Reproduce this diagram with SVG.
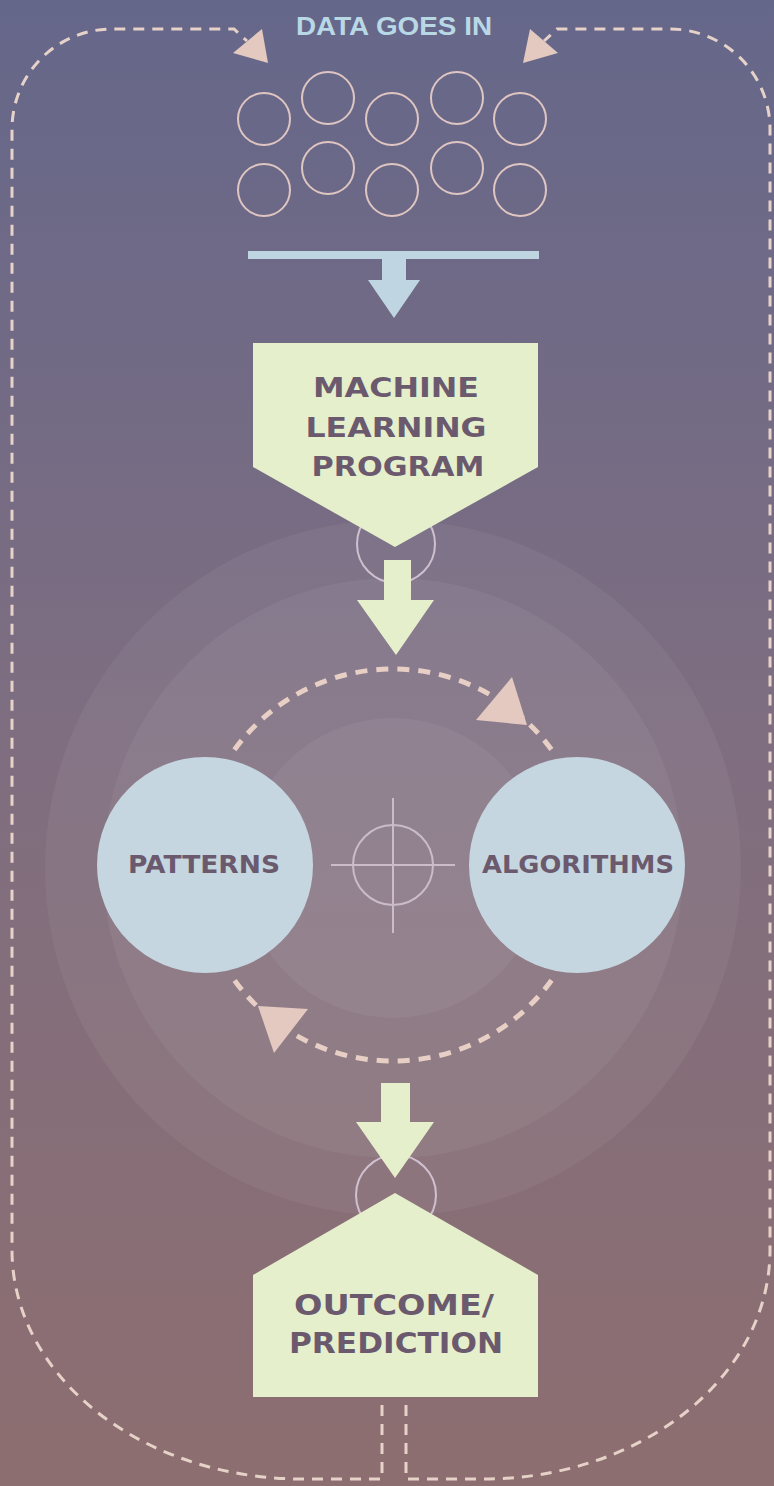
<svg xmlns="http://www.w3.org/2000/svg" width="774" height="1486" viewBox="0 0 774 1486">
<defs>
<linearGradient id="bg" x1="0" y1="0" x2="0" y2="1">
<stop offset="0" stop-color="#65678a"/>
<stop offset="0.5" stop-color="#7f6e80"/>
<stop offset="1" stop-color="#8d6e70"/>
</linearGradient>
<style>
.loop{fill:none;stroke:#e6d2c8;stroke-width:3;stroke-dasharray:11 8}
.cyc{fill:none;stroke:#e8cfc5;stroke-width:5;stroke-dasharray:12 9}
.head{fill:#e4c9c0}
.dot{fill:none;stroke:#e0c6c2;stroke-width:2}
.ring{fill:none;stroke:#d0c0d0;stroke-width:2}
.green{fill:#e6efcc}
.blue{fill:#bfd6e2}
.halo{fill:#ffffff;fill-opacity:0.05}
.lbl{font-family:"DejaVu Sans",sans-serif;font-weight:bold;fill:#6b5a6e;text-anchor:middle}
.cross{fill:none;stroke:#cbbccb;stroke-width:2}
</style>
</defs>
<rect x="0" y="0" width="774" height="1486" fill="url(#bg)"/>
<g id="halo">
<circle class="halo" cx="393" cy="868" r="348"/>
<circle class="halo" cx="393" cy="868" r="290"/>
<circle class="halo" cx="393" cy="868" r="150"/>
</g>
<g id="data-in">
<text x="394" y="35" font-family="'Liberation Sans',Arial,sans-serif" font-weight="bold" font-size="26.5" fill="#b9d8e6" text-anchor="middle" textLength="196" lengthAdjust="spacingAndGlyphs">DATA GOES IN</text>
<circle class="dot" cx="264" cy="119" r="26"/>
<circle class="dot" cx="328" cy="98" r="26"/>
<circle class="dot" cx="392" cy="119" r="26"/>
<circle class="dot" cx="457" cy="98" r="26"/>
<circle class="dot" cx="520" cy="119" r="26"/>
<circle class="dot" cx="264" cy="190" r="26"/>
<circle class="dot" cx="328" cy="168" r="26"/>
<circle class="dot" cx="392" cy="190" r="26"/>
<circle class="dot" cx="457" cy="168" r="26"/>
<circle class="dot" cx="520" cy="190" r="26"/>
</g>
<g id="funnel">
<rect class="blue" x="248" y="251" width="291" height="8"/>
<rect class="blue" x="382" y="258" width="24" height="23"/>
<polygon class="blue" points="368,280 420,280 394,318"/>
</g>
<g id="ml-program">
<circle class="ring" cx="396" cy="544" r="39"/>
<polygon class="green" points="253,343 538,343 538,467 395,547 253,467"/>
<text class="lbl" x="396" y="397" font-size="26" textLength="166" lengthAdjust="spacingAndGlyphs">MACHINE</text>
<text class="lbl" x="396" y="437" font-size="26" textLength="181" lengthAdjust="spacingAndGlyphs">LEARNING</text>
<text class="lbl" x="398" y="476" font-size="26" textLength="173" lengthAdjust="spacingAndGlyphs">PROGRAM</text>
</g>
<g id="crosshair">
<circle class="cross" cx="393" cy="865" r="40"/>
<line class="cross" x1="331" y1="865" x2="455" y2="865"/>
<line class="cross" x1="393" y1="798" x2="393" y2="933"/>
</g>
<g id="patterns">
<circle cx="205" cy="865" r="108" fill="#c5d6e0"/>
<text class="lbl" x="204" y="873" font-size="25" textLength="152" lengthAdjust="spacingAndGlyphs">PATTERNS</text>
</g>
<g id="algorithms">
<circle cx="577" cy="865" r="108" fill="#c5d6e0"/>
<text class="lbl" x="578" y="873" font-size="25" textLength="192" lengthAdjust="spacingAndGlyphs">ALGORITHMS</text>
</g>
<g id="outcome">
<circle class="ring" cx="396" cy="1195" r="40"/>
<polygon class="green" points="395,1193 538,1275 538,1397 253,1397 253,1275"/>
<text class="lbl" x="394" y="1315" font-size="28" textLength="200" lengthAdjust="spacingAndGlyphs">OUTCOME/</text>
<text class="lbl" x="396" y="1353" font-size="28" textLength="214" lengthAdjust="spacingAndGlyphs">PREDICTION</text>
</g>
<g id="connectors">
<path class="loop" d="M 382 1405 L 382 1479 L 302 1479 A 290 229 0 0 1 12 1250 L 12 129 A 100 100 0 0 1 112 29 L 234 29 L 247 41"/>
<path class="loop" d="M 406 1405 L 406 1479 L 484 1479 A 286 229 0 0 0 770 1250 L 770 129 A 100 100 0 0 0 670 29 L 557 29 L 544 41"/>
<polygon class="head" points="233,53 262,29 268,63"/>
<polygon class="head" points="530,29 558,53 523,63"/>
<path class="cyc" d="M 234.4 749.8 A 196 196 0 0 1 551.6 749.8"/>
<path class="cyc" d="M 551.6 980.2 A 196 196 0 0 1 234.4 980.2"/>
<polygon class="head" points="512,677 476,720 527,725"/>
<polygon class="head" points="274,1053 308,1009 258,1006"/>
<g id="arrow-ml-down">
<rect class="green" x="384" y="560" width="27" height="41"/>
<polygon class="green" points="357,600 434,600 396,655"/>
</g>
<g id="arrow-outcome-down">
<rect class="green" x="381" y="1083" width="29" height="40"/>
<polygon class="green" points="356,1122 434,1122 395,1178"/>
</g>
</g>
</svg>
